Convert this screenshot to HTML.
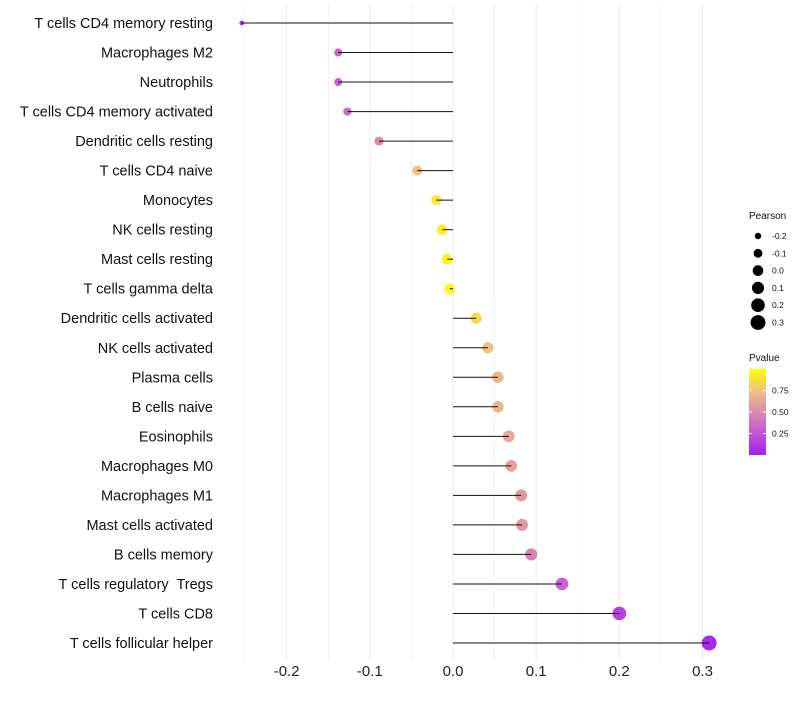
<!DOCTYPE html>
<html><head><meta charset="utf-8"><style>
body{margin:0;background:#fff;font-family:"Liberation Sans",sans-serif}
text{white-space:pre}
</style></head><body>
<svg id="chart" width="800" height="700" xmlns="http://www.w3.org/2000/svg" font-family="Liberation Sans, sans-serif"></svg>
<script>
const categories=["T cells CD4 memory resting","Macrophages M2","Neutrophils","T cells CD4 memory activated","Dendritic cells resting","T cells CD4 naive","Monocytes","NK cells resting","Mast cells resting","T cells gamma delta","Dendritic cells activated","NK cells activated","Plasma cells","B cells naive","Eosinophils","Macrophages M0","Macrophages M1","Mast cells activated","B cells memory","T cells regulatory  Tregs","T cells CD8","T cells follicular helper"];
const pearson=[-0.254,-0.138,-0.138,-0.127,-0.089,-0.043,-0.020,-0.013,-0.007,-0.004,0.028,0.042,0.054,0.054,0.067,0.070,0.082,0.083,0.094,0.131,0.200,0.308];
const pvalues=[0.05,0.30,0.30,0.35,0.50,0.75,0.90,0.93,0.96,0.98,0.85,0.75,0.70,0.70,0.62,0.60,0.55,0.55,0.45,0.30,0.15,0.05];
const xTicks=[-0.2,-0.1,0.0,0.1,0.2,0.3];
const sizeLegend=[-0.2,-0.1,0.0,0.1,0.2,0.3];
const pTicks=[0.25,0.50,0.75];

const svg=document.getElementById('chart');
const NS="http://www.w3.org/2000/svg";
function mk(t,a,p){const e=document.createElementNS(NS,t);for(const k in a)e.setAttribute(k,a[k]);(p||svg).appendChild(e);return e;}
const x=v=>453+v*831.7;
const y=i=>23+i*(620/21);
const r=v=>Math.sqrt(Math.max(2.2,5.6+89.7*(v+0.254)));
const stops=[[0,[160,32,240]],[0.33,[204,102,204]],[0.55,[224,150,165]],[0.75,[242,192,128]],[1,[255,255,0]]];
function col(p){for(let i=1;i<stops.length;i++){if(p<=stops[i][0]){const a=stops[i-1],b=stops[i],t=(p-a[0])/(b[0]-a[0]);return 'rgb('+a[1].map((c,j)=>Math.round(c+(b[1][j]-c)*t)).join(',')+')';}}return 'rgb(255,255,0)';}

// grid
for(let k=-5;k<=6;k++){const v=k*0.05;const g=mk('line',{x1:x(v),x2:x(v),y1:5,y2:660,stroke:'#ebebeb','stroke-width':k%2===0?1:0.6});
}
xTicks.forEach(t=>{const e=mk('text',{x:x(t),y:676,'text-anchor':'middle','font-size':15,fill:'#222'});e.textContent=t.toFixed(1);
});
categories.forEach((c,i)=>{
const l=mk('text',{x:213,y:y(i)+5,'text-anchor':'end','font-size':14.5,fill:'#111'});l.textContent=c;

const d=mk('circle',{cx:x(pearson[i]),cy:y(i),r:r(pearson[i]),fill:col(pvalues[i])});

const s=mk('line',{x1:x(0),x2:x(pearson[i]),y1:y(i),y2:y(i),stroke:'#111','stroke-width':1});

});
// size legend
const lt=mk('text',{x:749,y:219,'font-size':10,fill:'#111'});lt.textContent='Pearson';

sizeLegend.forEach((v,i)=>{const cy=236+i*17.3;
const c=mk('circle',{cx:758,cy:cy,r:r(v),fill:'#000'});
const t=mk('text',{x:772,y:cy+3,'font-size':8.5,fill:'#111'});t.textContent=v.toFixed(1);});
// color legend
const pt=mk('text',{x:749,y:361,'font-size':10,fill:'#111'});pt.textContent='Pvalue';

const defs=mk('defs',{});const gr=mk('linearGradient',{id:'pg',x1:0,y1:1,x2:0,y2:0},defs);
stops.forEach(s=>mk('stop',{offset:s[0],'stop-color':col(s[0])},gr));
const bar=mk('rect',{x:749,y:369,width:17,height:86,fill:'url(#pg)'});
pTicks.forEach(p=>{const cy=455-p*86;
mk('line',{x1:749,x2:752,y1:cy,y2:cy,stroke:'#fff'});mk('line',{x1:763,x2:766,y1:cy,y2:cy,stroke:'#fff'});
const t=mk('text',{x:772,y:cy+3,'font-size':8.5,fill:'#111'});t.textContent=p.toFixed(2);});
</script>
</body></html>
